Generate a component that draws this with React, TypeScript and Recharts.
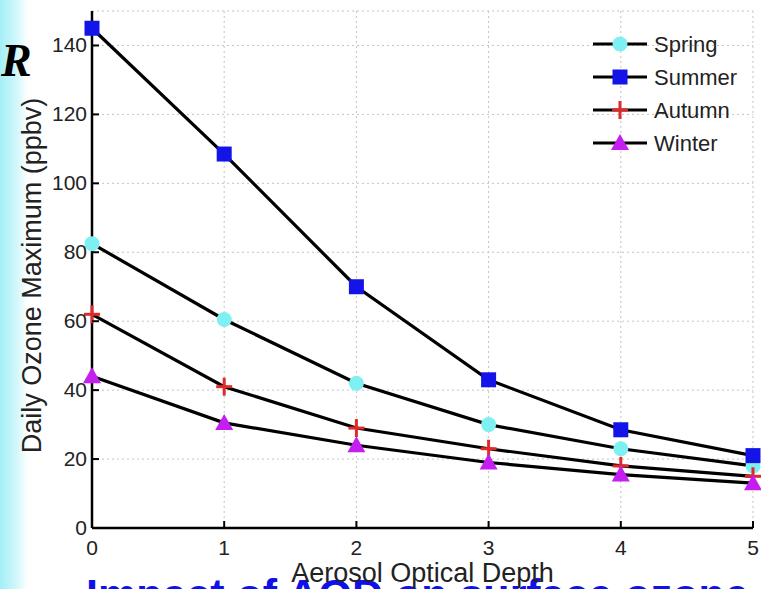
import React from "react";
import { LineChart, Line, XAxis, YAxis, CartesianGrid } from "recharts";

// aerosol optical depth (x) and daily ozone maximum per season (ppbv)
const aod = [0, 1, 2, 3, 4, 5];
const spring = [82.5, 60.5, 42, 30, 23, 18];
const summer = [145, 108.5, 70, 43, 28.5, 21];
const autumn = [62, 41, 29, 23, 18, 15];
const winter = [44, 30.5, 24, 19, 15.5, 13];

const xTicks = [0, 1, 2, 3, 4, 5];
const yTicks = [0, 20, 40, 60, 80, 100, 120, 140];

const W = 761;
const H = 589;
const FONT = '"Liberation Sans", Arial, Helvetica, sans-serif';
const TICK = 7;

const data = aod.map((x, i) => ({
  aod: x,
  spring: spring[i],
  summer: summer[i],
  autumn: autumn[i],
  winter: winter[i],
}));

type Marker = "circle" | "square" | "plus" | "triangle";

const SERIES: { key: string; name: string; color: string; marker: Marker }[] = [
  { key: "spring", name: "Spring", color: "#7ff0f2", marker: "circle" },
  { key: "summer", name: "Summer", color: "#1414e8", marker: "square" },
  { key: "autumn", name: "Autumn", color: "#e02a2a", marker: "plus" },
  { key: "winter", name: "Winter", color: "#c41ef0", marker: "triangle" },
];

function drawMarker(kind: Marker, cx: number, cy: number, color: string, key?: any) {
  if (kind === "circle") return <circle key={key} cx={cx} cy={cy} r={7.5} fill={color} />;
  if (kind === "square")
    return <rect key={key} x={cx - 7.5} y={cy - 7.5} width={15} height={15} fill={color} />;
  if (kind === "plus")
    return (
      <g key={key} stroke={color} strokeWidth={3}>
        <line x1={cx - 8} y1={cy} x2={cx + 8} y2={cy} />
        <line x1={cx} y1={cy - 9} x2={cx} y2={cy + 9} />
      </g>
    );
  return (
    <polygon
      key={key}
      points={`${cx},${cy - 9} ${cx + 9},${cy + 7} ${cx - 9},${cy + 7}`}
      fill={color}
    />
  );
}

// ticks point into the plot, matlab style; tickSize/tickMargin are 0 so x,y sit on the axis
const BottomTick = (p: any) => (
  <g>
    <line x1={p.x} y1={p.y} x2={p.x} y2={p.y - TICK} stroke="#000" strokeWidth={2} />
    <text x={p.x} y={p.y + 27} textAnchor="middle" fontSize={21} fontFamily={FONT} fill="#222">
      {p.payload.value}
    </text>
  </g>
);
const LeftTick = (p: any) => (
  <g>
    <line x1={p.x} y1={p.y} x2={p.x + TICK} y2={p.y} stroke="#000" strokeWidth={2} />
    <text x={p.x - 5} y={p.y + 7} textAnchor="end" fontSize={21} fontFamily={FONT} fill="#222">
      {p.payload.value}
    </text>
  </g>
);
const TopTick = (p: any) => (
  <line x1={p.x} y1={p.y} x2={p.x} y2={p.y + TICK} stroke="#000" strokeWidth={2} />
);
const RightTick = (p: any) => (
  <line x1={p.x} y1={p.y} x2={p.x - TICK} y2={p.y} stroke="#000" strokeWidth={2} />
);

const Legend = () => (
  <svg width={W} height={H} style={{ position: "absolute", left: 0, top: 0, pointerEvents: "none" }}>
    {SERIES.map((s, i) => {
      const y = 44 + i * 33;
      return (
        <g key={s.key}>
          <line x1={593} y1={y} x2={647} y2={y} stroke="#000" strokeWidth={3} />
          {drawMarker(s.marker, 620, y, s.color)}
          <text x={654} y={y + 8} fontSize={22} fontFamily={FONT} fill="#222">
            {s.name}
          </text>
        </g>
      );
    })}
  </svg>
);

const Backdrop = () => (
  <svg width={W} height={H} style={{ position: "absolute", left: 0, top: 0 }}>
    <defs>
      <linearGradient id="strip" x1="0" x2="1" y1="0" y2="0">
        <stop offset="0" stopColor="#a4eef7" />
        <stop offset="0.6" stopColor="#d2f7fb" />
        <stop offset="1" stopColor="#ffffff" />
      </linearGradient>
    </defs>
    <rect x={0} y={0} width={28} height={H} fill="url(#strip)" />
    <text
      x={1}
      y={76}
      fontSize={46}
      fontWeight="bold"
      fontStyle="italic"
      fontFamily='"Liberation Serif", "Times New Roman", serif'
      fill="#000"
    >
      R
    </text>
    <text x={86} y={609} fontSize={43} fontWeight="bold" fontFamily={FONT} fill="#1010e8">
      Impact of AOD on surface ozone
    </text>
  </svg>
);

export default function App() {
  const axisLine = { stroke: "#000", strokeWidth: 2.5 };
  return (
    <div
      style={{
        position: "absolute",
        left: 0,
        top: 0,
        width: W,
        height: H,
        overflow: "hidden",
        background: "#fff",
      }}
    >
      <Backdrop />
      <div style={{ position: "absolute", left: 0, top: 0 }}>
        <LineChart width={W} height={H} data={data} margin={{ top: 11, right: 8, bottom: 0, left: 0 }}>
          <CartesianGrid stroke="#c4c4c4" strokeDasharray="2 3" strokeWidth={1} />
          <XAxis
            dataKey="aod"
            type="number"
            domain={[0, 5]}
            ticks={xTicks}
            height={61}
            axisLine={axisLine}
            tickLine={false}
            tickSize={0}
            tickMargin={0}
            tick={BottomTick}
            label={{
              content: (p: any) => {
                const vb = p.viewBox;
                return (
                  <text
                    x={vb.x + vb.width / 2}
                    y={vb.y + vb.height - 7}
                    textAnchor="middle"
                    fontSize={27}
                    fontFamily={FONT}
                    fill="#222"
                  >
                    Aerosol Optical Depth
                  </text>
                );
              },
            }}
          />
          <XAxis
            xAxisId="top"
            dataKey="aod"
            type="number"
            orientation="top"
            domain={[0, 5]}
            ticks={xTicks}
            height={0}
            axisLine={axisLine}
            tickLine={false}
            tickSize={0}
            tickMargin={0}
            tick={TopTick}
          />
          <YAxis
            type="number"
            domain={[0, 150]}
            ticks={yTicks}
            width={92}
            axisLine={axisLine}
            tickLine={false}
            tickSize={0}
            tickMargin={0}
            tick={LeftTick}
            label={{
              content: (p: any) => {
                const vb = p.viewBox;
                const cy = vb.y + vb.height / 2 + 6;
                return (
                  <text
                    transform={`rotate(-90, 41, ${cy})`}
                    x={41}
                    y={cy}
                    textAnchor="middle"
                    fontSize={27}
                    fontFamily={FONT}
                    fill="#222"
                  >
                    Daily Ozone Maximum (ppbv)
                  </text>
                );
              },
            }}
          />
          <YAxis
            yAxisId="right"
            orientation="right"
            type="number"
            domain={[0, 150]}
            ticks={yTicks}
            width={0}
            axisLine={axisLine}
            tickLine={false}
            tickSize={0}
            tickMargin={0}
            tick={RightTick}
          />
          {SERIES.map((s) => (
            <Line
              key={s.key}
              dataKey={s.key}
              name={s.name}
              type="linear"
              stroke="#000"
              strokeWidth={3.2}
              isAnimationActive={false}
              dot={(p: any) => drawMarker(s.marker, p.cx, p.cy, s.color, `${s.key}-${p.index}`)}
              activeDot={false}
            />
          ))}
        </LineChart>
      </div>
      <Legend />
    </div>
  );
}
